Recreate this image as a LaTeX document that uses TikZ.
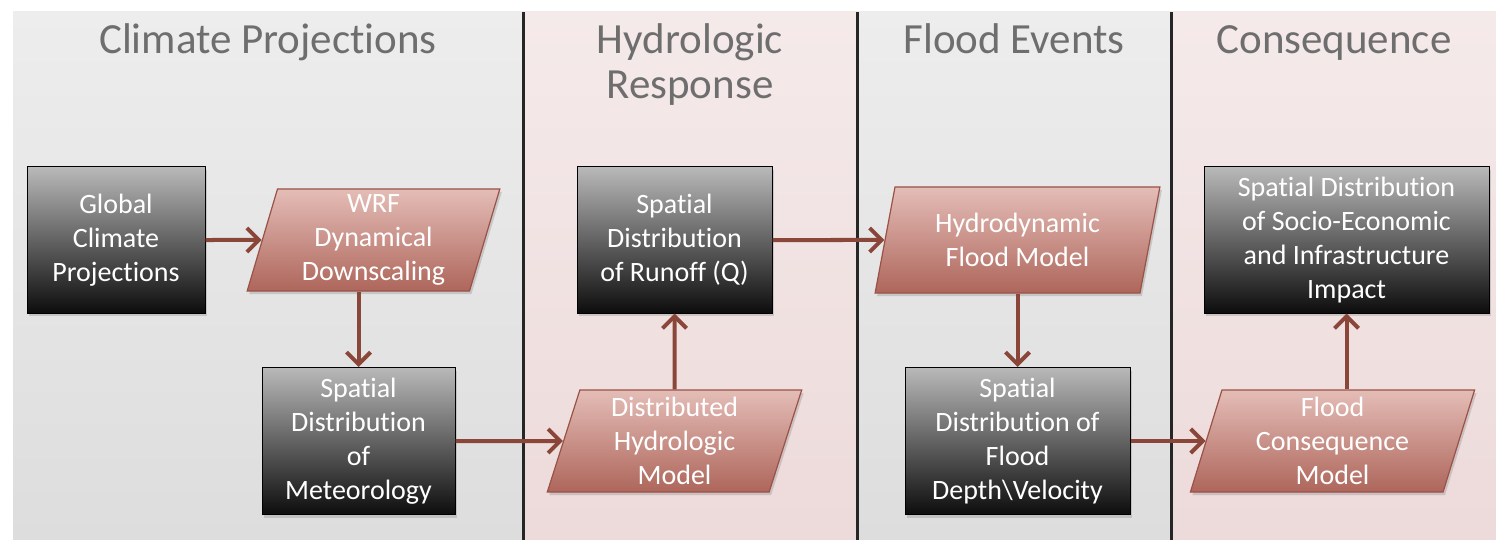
\documentclass[tikz,border=0pt]{standalone}
\usepackage{fontspec}
\setmainfont{Carlito}[Ligatures=NoCommon]
\usetikzlibrary{arrows.meta,shapes.geometric,shadows}
\definecolor{panelGray}{HTML}{EDEDED}
\definecolor{panelGrayLow}{HTML}{DDDDDD}
\definecolor{panelPink}{HTML}{F5EAEA}
\definecolor{panelPinkLow}{HTML}{EDDADA}
\definecolor{modelTop}{HTML}{E4BDB7}
\definecolor{modelBottom}{HTML}{AE665B}
\definecolor{modelLine}{HTML}{9A5246}
\definecolor{flowBrown}{HTML}{8A4739}
\definecolor{titleGray}{HTML}{6E6E6E}
\newcommand{\titleFont}{\fontsize{43}{45}\selectfont}
\newcommand{\boxFont}{\fontsize{28}{34}\selectfont}
\newcommand{\panelTop}{12}

\begin{document}
\begin{tikzpicture}[x=1pt, y=-1pt]
  \tikzset{
    dataBox/.style={rectangle, draw=black, line width=1pt, top color=gray!55, bottom color=black!95,
      text=white, font=\boxFont, align=center, inner sep=0pt,
      drop shadow={opacity=0.3, shadow xshift=2pt, shadow yshift=-3pt}},
    modelBox/.style={trapezium, trapezium left angle=76, trapezium right angle=104,
      trapezium stretches=true, draw=modelLine, line width=1.2pt, top color=modelTop, bottom color=modelBottom,
      text=white, font=\boxFont, align=center, inner sep=0pt,
      drop shadow={opacity=0.3, shadow xshift=2pt, shadow yshift=-3pt}},
    flow/.style={draw=flowBrown, line width=4pt, -{Straight Barb[length=12pt, width=24pt]}},
    title/.style={text=titleGray, font=\titleFont, align=center},
    divider/.style={draw=black!85, line width=3pt}
  }
  \useasboundingbox (0,0) rectangle (1496,540);
  \fill[top color=panelGray, bottom color=panelGrayLow] (13,\panelTop) rectangle (523,540);
  \fill[top color=panelPink, bottom color=panelPinkLow] (523,\panelTop) rectangle (857,540);
  \fill[top color=panelGray, bottom color=panelGrayLow] (857,\panelTop) rectangle (1171,540);
  \fill[top color=panelPink, bottom color=panelPinkLow] (1171,\panelTop) rectangle (1496,540);
  \foreach \xdiv in {523,857,1171}
    \draw[divider] (\xdiv,\panelTop) -- (\xdiv,540);

  \node[title, anchor=base] (t-climate) at (268,54) {Climate Projections};
  \node[title, anchor=base] (t-hydro) at (690,99) {Hydrologic\\Response};
  \node[title, anchor=base] (t-flood) at (1014,54) {Flood Events};
  \node[title, anchor=base] (t-conseq) at (1334,54) {Consequence};

  \node[dataBox, minimum width=178pt, minimum height=146pt] (glob) at (116,240) {Global\\Climate\\Projections};
  \node[modelBox, minimum width=253pt, minimum height=102pt] (wrf) at (373.5,240) {WRF\\Dynamical\\Downscaling};
  \node[dataBox, minimum width=193pt, minimum height=147pt] (met) at (358.5,441) {Spatial\\Distribution\\of\\Meteorology};
  \node[modelBox, minimum width=255pt, minimum height=102pt] (dhm) at (674.5,441) {Distributed\\Hydrologic\\Model};
  \node[dataBox, minimum width=195pt, minimum height=146pt] (runoff) at (674.5,240) {Spatial\\Distribution\\of Runoff (Q)};
  \node[modelBox, minimum width=285pt, minimum height=106pt] (hfm) at (1017.5,240) {Hydrodynamic\\Flood Model};
  \node[dataBox, minimum width=225pt, minimum height=147pt] (depth) at (1017.5,441) {Spatial\\Distribution of\\Flood\\Depth\textbackslash Velocity};
  \node[modelBox, minimum width=285pt, minimum height=102pt] (fcm) at (1332.5,441) {Flood\\Consequence\\Model};
  \node[dataBox, minimum width=285pt, minimum height=146pt] (impact) at (1346.5,240) {Spatial Distribution\\of Socio-Economic\\and Infrastructure\\Impact};

  \draw[flow] (glob) -- (wrf);
  \draw[flow] (met.north |- wrf.south) -- (met);
  \draw[flow] (met) -- (dhm);
  \draw[flow] (dhm) -- (runoff);
  \draw[flow] (runoff) -- (hfm);
  \draw[flow] (hfm) -- (depth);
  \draw[flow] (depth) -- (fcm);
  \draw[flow] (impact.south |- fcm.north) -- (impact);
\end{tikzpicture}
\end{document}
